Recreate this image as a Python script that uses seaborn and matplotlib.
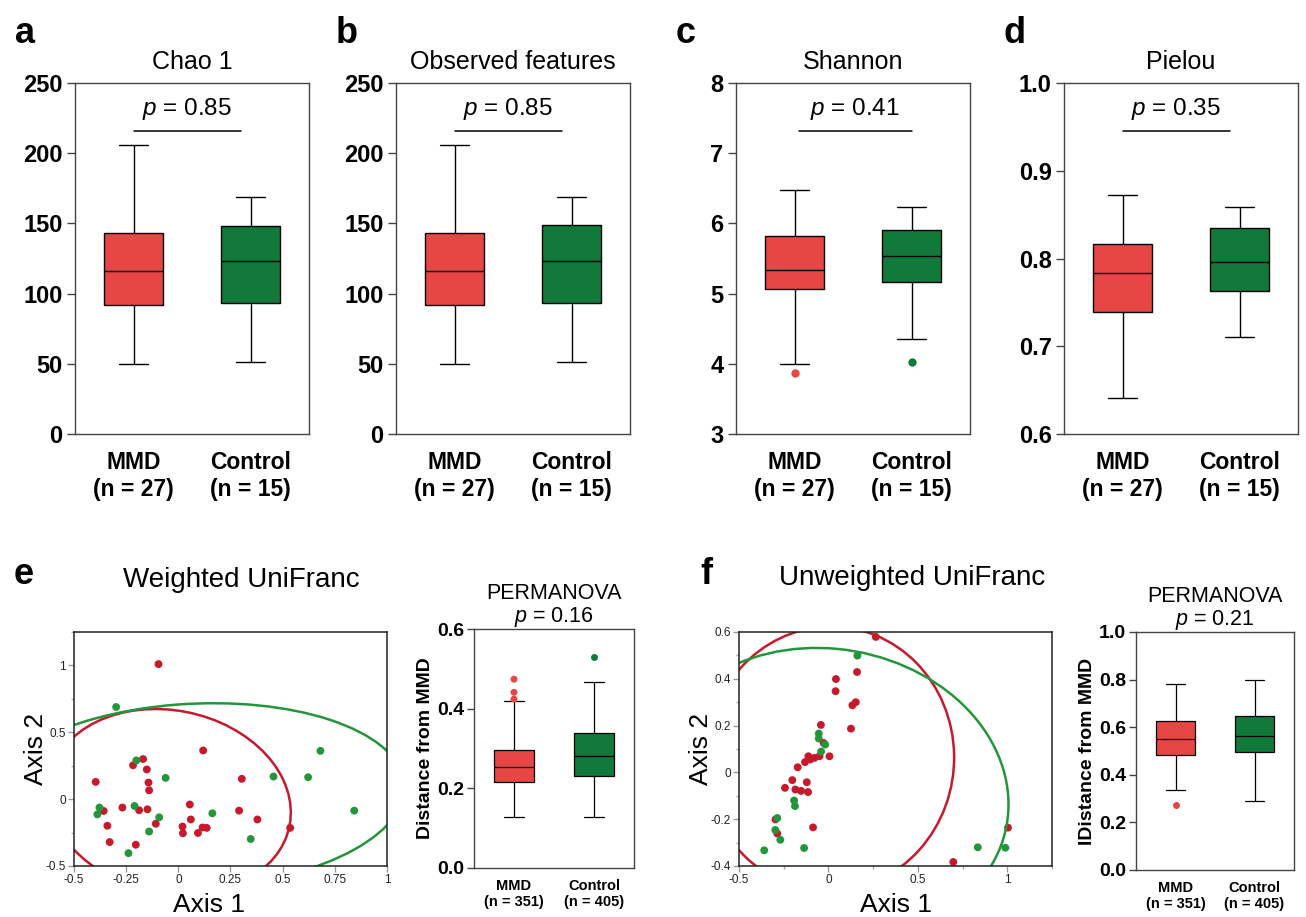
import numpy as np
import pandas as pd
import seaborn as sns
import matplotlib.pyplot as plt
from matplotlib.patches import Ellipse
from matplotlib.ticker import MultipleLocator, FuncFormatter

sns.set_style("ticks")
plt.rcParams["font.family"] = ["Liberation Sans", "DejaVu Sans"]
plt.rcParams["mathtext.fontset"] = "custom"
plt.rcParams["mathtext.rm"] = "Liberation Sans"
plt.rcParams["mathtext.it"] = "Liberation Sans:italic"
plt.rcParams["mathtext.bf"] = "Liberation Sans:bold"
for k in ["text.color", "axes.labelcolor", "xtick.labelcolor", "ytick.labelcolor"]:
    plt.rcParams[k] = "black"

groups = ["MMD", "Control"]
box_colors = {"MMD": "#E64644", "Control": "#117A3A"}
dot_colors = {"MMD": "#C8192C", "Control": "#23963C"}

# five-number summaries (min, Q1, median, Q3, max)
chao_mmd = [50, 92, 116, 143, 206]
chao_ctrl = [51, 93, 123, 148, 169]
obs_mmd = [50, 92, 116, 143, 206]
obs_ctrl = [51, 93, 123, 149, 169]
shannon_mmd = [4.00, 5.07, 5.34, 5.82, 6.48]
shannon_ctrl = [4.35, 5.16, 5.53, 5.91, 6.24]
shannon_out_mmd = [3.87]
shannon_out_ctrl = [4.03]
pielou_mmd = [0.641, 0.739, 0.784, 0.817, 0.872]
pielou_ctrl = [0.710, 0.763, 0.796, 0.835, 0.859]

wdist_mmd = [0.127, 0.216, 0.253, 0.296, 0.419]
wdist_ctrl = [0.127, 0.232, 0.281, 0.339, 0.468]
wdist_out_mmd = [0.424, 0.441, 0.474]
wdist_out_ctrl = [0.530]
udist_mmd = [0.337, 0.485, 0.552, 0.624, 0.780]
udist_ctrl = [0.292, 0.494, 0.561, 0.645, 0.797]
udist_out_mmd = [0.274]
udist_out_ctrl = []

alpha_labels = ["MMD\n(n = 27)", "Control\n(n = 15)"]
beta_labels = ["MMD\n(n = 351)", "Control\n(n = 405)"]

# PCoA coordinates, weighted UniFrac
w_mmd_x = [-0.095, 0.119, -0.396, -0.169, -0.217, -0.151, -0.143, -0.140, 0.304,
           -0.358, -0.268, -0.188, -0.148, -0.340, -0.329, -0.204, -0.108, 0.055,
           0.060, 0.020, 0.022, 0.094, 0.116, 0.136, 0.291, 0.379, 0.536]
w_mmd_y = [1.010, 0.364, 0.129, 0.300, 0.253, 0.222, 0.124, 0.066, 0.152,
           -0.088, -0.063, -0.083, -0.076, -0.199, -0.321, -0.341, -0.184, -0.040,
           -0.152, -0.205, -0.255, -0.253, -0.212, -0.215, -0.086, -0.152, -0.215]
w_ctrl_x = [-0.298, -0.201, -0.061, -0.378, -0.388, -0.210, -0.092, -0.140,
            -0.239, 0.163, 0.347, 0.456, 0.622, 0.681, 0.843]
w_ctrl_y = [0.689, 0.290, 0.159, -0.063, -0.114, -0.051, -0.136, -0.242,
            -0.404, -0.106, -0.298, 0.169, 0.164, 0.361, -0.086]

# PCoA coordinates, unweighted UniFrac
u_mmd_x = [0.265, 0.160, 0.042, 0.040, 0.153, 0.134, 0.126, -0.042, -0.027,
           0.006, -0.050, -0.112, -0.078, -0.102, -0.131, -0.172, -0.202, -0.121,
           -0.243, -0.185, -0.153, -0.114, -0.296, -0.286, -0.086, 0.698, 1.004]
u_mmd_y = [0.579, 0.429, 0.399, 0.347, 0.300, 0.287, 0.187, 0.203, 0.126,
           0.069, 0.069, 0.069, 0.062, 0.055, 0.044, 0.022, -0.033, -0.042,
           -0.066, -0.073, -0.079, -0.084, -0.201, -0.261, -0.235, -0.383, -0.236]
u_ctrl_x = [0.162, -0.054, -0.054, -0.018, -0.041, -0.192, -0.187, -0.286,
            -0.297, -0.269, -0.359, -0.136, 0.835, 0.989]
u_ctrl_y = [0.499, 0.166, 0.145, 0.119, 0.089, -0.120, -0.144, -0.195,
            -0.246, -0.288, -0.333, -0.323, -0.320, -0.322]

CHI2_95 = 5.991  # chi-square, 2 dof, 95 %

W, H = 1306, 917
fig = plt.figure(figsize=(W / 100, H / 100), dpi=100)


def px(l, t, r, b):
    return [l / W, 1 - b / H, (r - l) / W, (b - t) / H]


def box_panel(ax, mmd, ctrl, out_mmd, out_ctrl, xlabels, lw, dot):
    df = pd.DataFrame({"group": ["MMD"] * len(mmd) + ["Control"] * len(ctrl),
                       "value": mmd + ctrl})
    sns.boxplot(data=df, x="group", y="value", hue="group", order=groups,
                hue_order=groups, palette=box_colors, saturation=1,
                whis=(0, 100), width=0.5, linewidth=lw, linecolor="black",
                showfliers=False, legend=False, ax=ax)
    if out_mmd or out_ctrl:
        outs = pd.DataFrame({"group": ["MMD"] * len(out_mmd) + ["Control"] * len(out_ctrl),
                             "value": out_mmd + out_ctrl})
        sns.stripplot(data=outs, x="group", y="value", hue="group", order=groups,
                      hue_order=groups, palette=box_colors, jitter=False,
                      size=dot, linewidth=0, legend=False, ax=ax, zorder=3)
    ax.set_xlim(-0.5, 1.5)
    ax.set_xlabel("")
    ax.set_ylabel("")
    ax.set_xticks([0, 1])
    for s in ax.spines.values():
        s.set_color("#444444")
        s.set_linewidth(1)


# ---- top row: alpha diversity ----
top = [
    ("a", 75, "Chao 1", chao_mmd, chao_ctrl, [], [], (0, 250), np.arange(0, 251, 50), "%d", "0.85", (0, 0.92)),
    ("b", 396, "Observed features", obs_mmd, obs_ctrl, [], [], (0, 250), np.arange(0, 251, 50), "%d", "0.85", (0, 0.92)),
    ("c", 736, "Shannon", shannon_mmd, shannon_ctrl, shannon_out_mmd, shannon_out_ctrl, (3, 8), np.arange(3, 9, 1), "%d", "0.41", (0.04, 1.0)),
    ("d", 1064, "Pielou", pielou_mmd, pielou_ctrl, [], [], (0.6, 1.0), np.arange(0.6, 1.01, 0.1), "%.1f", "0.35", (0, 0.92)),
]
for letter, left, title, mmd, ctrl, om, oc, ylim, yt, fmt, p, span in top:
    ax = fig.add_axes(px(left, 83, left + 234, 434))
    box_panel(ax, mmd, ctrl, om, oc, alpha_labels, 1.0, 6)
    ax.set_ylim(*ylim)
    ax.set_yticks(yt)
    ax.set_yticklabels([fmt % v for v in yt], fontsize=17, fontweight="bold")
    ax.set_xticklabels(alpha_labels, fontsize=16.5, fontweight="bold", linespacing=1.25)
    ax.tick_params(axis="x", length=0, pad=12)
    ax.tick_params(axis="y", length=6, width=1, color="#444444", pad=3)
    ax.set_title(title, fontsize=18, pad=10)
    tr = ax.get_xaxis_transform()
    ax.plot(span, [0.863, 0.863], color="black", lw=1.1, transform=tr, clip_on=False)
    ax.text(sum(span) / 2, 0.91, "$p$ = " + p, transform=tr, ha="center",
            va="baseline", fontsize=17.5)
    fig.text((left - 60) / W, 1 - 43 / H, letter, fontsize=26, fontweight="bold",
             va="baseline")


# ---- bottom row: beta diversity ----
def pcoa_panel(ax, mx, my, cx, cy, xlim, ylim, xmaj, xmin, ymaj, ymin, xlab_x):
    df = pd.DataFrame({"Axis1": mx + cx, "Axis2": my + cy,
                       "group": ["MMD"] * len(mx) + ["Control"] * len(cx)})
    sns.scatterplot(data=df, x="Axis1", y="Axis2", hue="group", hue_order=groups,
                    palette=dot_colors, s=32, edgecolor="none", legend=False, ax=ax)
    for gx, gy, g in [(mx, my, "MMD"), (cx, cy, "Control")]:
        gx, gy = np.asarray(gx), np.asarray(gy)
        vals, vecs = np.linalg.eigh(np.cov(gx, gy))
        order = vals.argsort()[::-1]
        vals, vecs = vals[order], vecs[:, order]
        ang = np.degrees(np.arctan2(vecs[1, 0], vecs[0, 0]))
        w, h = 2 * np.sqrt(CHI2_95 * vals)
        ax.add_patch(Ellipse((gx.mean(), gy.mean()), w, h, angle=ang, fill=False,
                             ec=dot_colors[g], lw=1.8))
    ax.set_xlim(*xlim)
    ax.set_ylim(*ylim)
    ax.xaxis.set_major_locator(MultipleLocator(xmaj))
    ax.yaxis.set_major_locator(MultipleLocator(ymaj))
    if xmin:
        ax.xaxis.set_minor_locator(MultipleLocator(xmin))
    ax.yaxis.set_minor_locator(MultipleLocator(ymin))
    gfmt = FuncFormatter(lambda v, _: "%g" % round(v, 3))
    ax.xaxis.set_major_formatter(gfmt)
    ax.yaxis.set_major_formatter(gfmt)
    ax.tick_params(which="major", length=4, width=1, color="#999999",
                   labelsize=8.5, labelcolor="#222222", pad=2)
    ax.tick_params(which="minor", length=2.5, width=1, color="#aaaaaa")
    for s in ax.spines.values():
        s.set_color("#222222")
        s.set_linewidth(1.1)
    ax.set_xlabel("Axis 1", fontsize=19)
    ax.set_ylabel("Axis 2", fontsize=19)
    ax.xaxis.set_label_coords(xlab_x, -0.115)
    ax.yaxis.set_label_coords(-0.083, 0.5)


def beta_box(ax, mmd, ctrl, om, oc, p, ylabel, ylim, step):
    box_panel(ax, mmd, ctrl, om, oc, beta_labels, 0.9, 5)
    ax.set_ylim(*ylim)
    yt = np.arange(ylim[0], ylim[1] + 1e-9, step)
    ax.set_yticks(yt)
    ax.set_yticklabels(["%.1f" % v for v in yt], fontsize=14, fontweight="bold")
    ax.set_xticklabels(beta_labels, fontsize=10.5, fontweight="bold", linespacing=1.15)
    ax.tick_params(axis="x", length=0, pad=8)
    ax.tick_params(axis="y", length=5, width=1, color="#444444", pad=2)
    ax.set_ylabel(ylabel, fontsize=14, fontweight="bold")
    ax.yaxis.set_label_coords(-0.25, 0.5)
    ax.set_title("PERMANOVA\n$p$ = " + p, fontsize=15.5, pad=4, linespacing=1.05)


ax_e = fig.add_axes(px(74, 632, 387, 866))
pcoa_panel(ax_e, w_mmd_x, w_mmd_y, w_ctrl_x, w_ctrl_y, (-0.5, 1), (-0.5, 1.25),
           0.25, None, 0.5, 0.25, 0.43)
ax_eb = fig.add_axes(px(474, 629, 634, 868))
beta_box(ax_eb, wdist_mmd, wdist_ctrl, wdist_out_mmd, wdist_out_ctrl, "0.16",
         "Distance from MMD", (0, 0.6), 0.2)

ax_f = fig.add_axes(px(739, 632, 1052, 866))
pcoa_panel(ax_f, u_mmd_x, u_mmd_y, u_ctrl_x, u_ctrl_y, (-0.5, 1.25), (-0.4, 0.6),
           0.5, 0.25, 0.2, 0.1, 0.5)
ax_fb = fig.add_axes(px(1136, 632, 1294, 870))
beta_box(ax_fb, udist_mmd, udist_ctrl, udist_out_mmd, udist_out_ctrl, "0.21",
         "IDistance from MMD", (0, 1.0), 0.2)

fig.text(241 / W, 1 - 587 / H, "Weighted UniFranc", fontsize=20, ha="center", va="baseline")
fig.text(912 / W, 1 - 585 / H, "Unweighted UniFranc", fontsize=20, ha="center", va="baseline")
fig.text(14 / W, 1 - 584 / H, "e", fontsize=26, fontweight="bold", va="baseline")
fig.text(700 / W, 1 - 584 / H, "f", fontsize=26, fontweight="bold", va="baseline")

fig.savefig("out.png", dpi=100)
